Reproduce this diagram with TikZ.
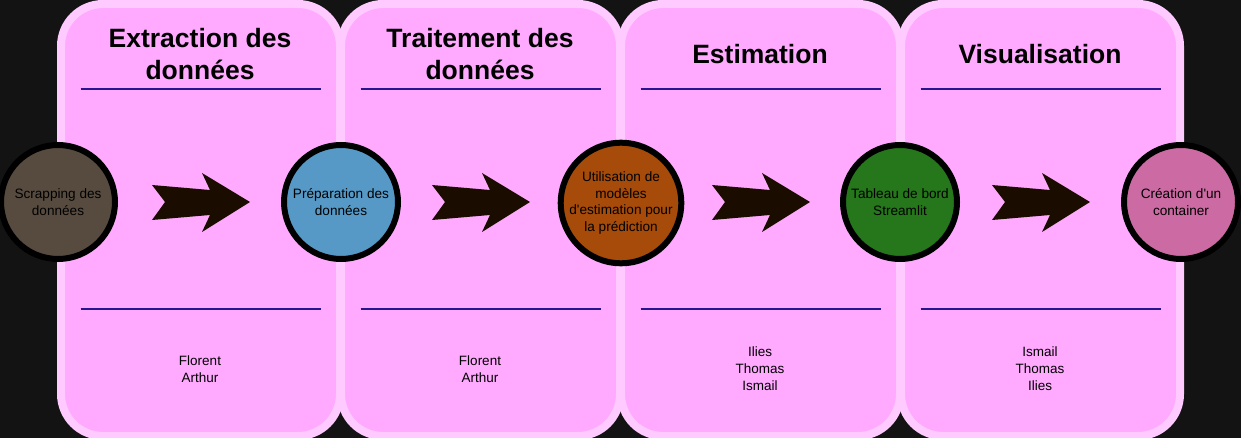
\documentclass[tikz,border=0pt]{standalone}
\usepackage{fontspec}
\setmainfont{Liberation Sans}
\newfontfamily\plainsans{Liberation Sans}
\definecolor{bgdark}{RGB}{19,19,19}
\definecolor{panelfill}{RGB}{255,170,255}
\definecolor{panelborder}{RGB}{255,202,255}
\definecolor{rulecol}{RGB}{40,20,140}
\definecolor{arrowcol}{RGB}{26,13,0}
\definecolor{cA}{RGB}{87,75,64}
\definecolor{cB}{RGB}{86,153,198}
\definecolor{cC}{RGB}{166,75,10}
\definecolor{cD}{RGB}{38,118,28}
\definecolor{cE}{RGB}{204,107,163}
\begin{document}
\begin{tikzpicture}[x=1pt,y=-1pt,
  panel/.style={rectangle, draw=panelborder, fill=panelfill, line width=8pt,
    rounded corners=42pt, minimum width=279pt, minimum height=432pt, inner sep=0pt},
  stage/.style={circle, draw=black, line width=6pt, minimum size=114pt, inner sep=0pt,
    align=center, text=black, font=\plainsans\fontsize{13.6}{16.8}\selectfont},
  title/.style={align=center, font=\plainsans\fontsize{26.5}{32}\selectfont\bfseries, text=black},
  names/.style={align=center, font=\plainsans\fontsize{13.5}{17}\selectfont, text=black},
  rulebar/.style={draw=rulecol, line width=1.6pt},
  bigarrow/.style={fill=arrowcol, draw=none}]
\useasboundingbox (0,0) rectangle (1241,438);
\fill[bgdark] (0,0) rectangle (1241,438);
% panels
\node[panel] (p1) at (200.5,220) {};
\node[panel] (p2) at (480.5,220) {};
\node[panel] (p3) at (760.5,220) {};
\node[panel] (p4) at (1040.5,220) {};
% titles
\node[title] (t1) at (200,54.5) {Extraction des\\données};
\node[title] (t2) at (480,54.5) {Traitement des\\données};
\node[title] (t3) at (760,54) {Estimation};
\node[title] (t4) at (1040,54) {Visualisation};
% rules
\foreach \p in {1,2,3,4} {
  \coordinate (ra\p) at ([xshift=-120pt]p\p.center |- 0,89);
  \coordinate (rb\p) at ([xshift=120pt]p\p.center |- 0,89);
  \coordinate (rc\p) at ([xshift=-120pt]p\p.center |- 0,309);
  \coordinate (rd\p) at ([xshift=120pt]p\p.center |- 0,309);
  \draw[rulebar] (ra\p) -- (rb\p);
  \draw[rulebar] (rc\p) -- (rd\p);
}
% names
\node[names] (n1) at (200,369) {Florent\\Arthur};
\node[names] (n2) at (480,369) {Florent\\Arthur};
\node[names] (n3) at (760,369) {Ilies\\Thomas\\Ismail};
\node[names] (n4) at (1040,369) {Ismail\\Thomas\\Ilies};
% stages
\node[stage, fill=cA] (c1) at (58,202) {Scrapping des\\données};
\node[stage, fill=cB] (c2) at (341,202) {Préparation des\\données};
\node[stage, fill=cC] (c3) at (621,203) {Utilisation de\\modèles\\d'estimation pour\\la prédiction};
\node[stage, fill=cD] (c4) at (900,202) {Tableau de bord\\Streamlit};
\node[stage, fill=cE] (c5) at (1181,202) {Création d'un\\container};
% arrows
\foreach \i/\x in {1/201,2/481,3/761,4/1041} {
  \coordinate (a\i) at (\x,202);
  \fill[bigarrow, shift={(a\i)}]
    (-49,-17) -- (9,-12) -- (1,-29) -- (49,0) -- (1,30) -- (9,13) -- (-49,18) -- (-36,0) -- cycle;
}
\end{tikzpicture}
\end{document}
